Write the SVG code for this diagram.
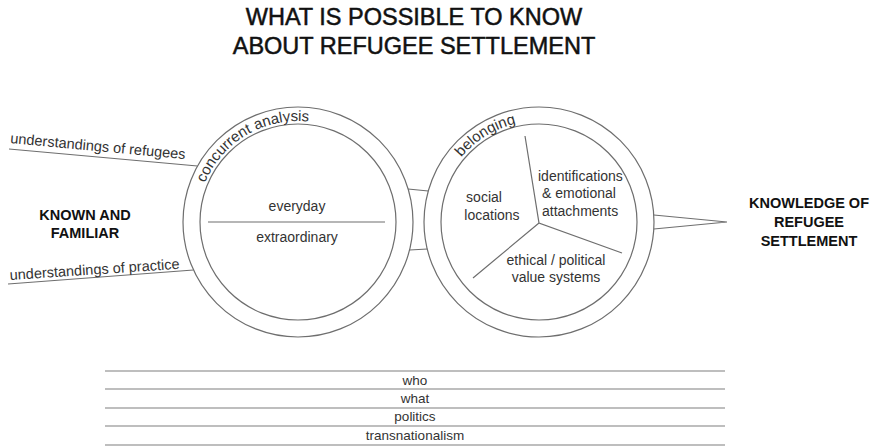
<svg xmlns="http://www.w3.org/2000/svg" width="877" height="447" viewBox="0 0 877 447">
  <style>
    .ln { fill: none; stroke: #6e6e6e; stroke-width: 1.2; }
    .rule { fill: none; stroke: #a8a8a8; stroke-width: 1.6; }
    .t { font-family: "Liberation Sans", Arial, sans-serif; font-size: 14px; fill: #333; }
    .lab { font-family: "Liberation Sans", Arial, sans-serif; font-size: 14.5px; fill: #333; }
    .arc { font-family: "Liberation Sans", Arial, sans-serif; font-size: 15px; fill: #333; }
    .tc { text-anchor: middle; }
    .b { font-family: "Liberation Sans", Arial, sans-serif; font-size: 14.5px; font-weight: bold; fill: #111; text-anchor: middle; }
    .title { font-family: "Liberation Sans", Arial, sans-serif; font-size: 23.5px; fill: #111; stroke: #111; stroke-width: 0.5; text-anchor: middle; }
    .small { font-family: "Liberation Sans", Arial, sans-serif; font-size: 13.5px; fill: #333; text-anchor: middle; }
  </style>
  <defs>
    <path id="arcL" d="M197,222 A101,101 0 0 1 399,222"/>
    <path id="arcR" d="M438,222 A101,101 0 0 1 640,222"/>
  </defs>
  <rect width="877" height="447" fill="#fff"/>

  <g id="title">
    <text class="title" x="414" y="25">WHAT IS POSSIBLE TO KNOW</text>
    <text class="title" x="414" y="54">ABOUT REFUGEE SETTLEMENT</text>
  </g>

  <g id="connectors">
    <line class="ln" x1="9" y1="149" x2="197.5" y2="166"/>
    <line class="ln" x1="8" y1="284" x2="193.5" y2="270"/>
    <line class="ln" x1="408" y1="189" x2="428.3" y2="191"/>
    <line class="ln" x1="409.5" y1="250" x2="427.5" y2="249"/>
    <path class="ln" d="M653.8,215 L727,222 L653.8,229"/>
  </g>

  <g id="understandings-refugees">
    <text class="lab" transform="translate(10,143) rotate(5.3)">understandings of refugees</text>
  </g>
  <g id="understandings-practice">
    <text class="lab" transform="translate(10,280) rotate(-3.8)">understandings of practice</text>
  </g>

  <g id="known-familiar">
    <text class="b" x="85" y="220">KNOWN AND</text>
    <text class="b" x="85" y="238">FAMILIAR</text>
  </g>

  <g id="concurrent-analysis">
    <circle class="ln" cx="298" cy="222" r="115"/>
    <circle class="ln" cx="298" cy="222" r="98"/>
    <text class="arc"><textPath href="#arcL" startOffset="40">concurrent analysis</textPath></text>
    <line class="ln" x1="208" y1="222" x2="385" y2="222"/>
    <text class="t tc" x="297" y="211">everyday</text>
    <text class="t tc" x="297" y="242">extraordinary</text>
  </g>

  <g id="belonging">
    <circle class="ln" cx="539" cy="222" r="115"/>
    <circle class="ln" cx="539" cy="222" r="98"/>
    <text class="arc"><textPath href="#arcR" startOffset="70">belonging</textPath></text>
    <path class="ln" d="M525,136 L539,223 L622,253 M539,223 L473,278"/>
    <text class="t tc" x="484" y="202">social</text>
    <text class="t tc" x="492" y="220">locations</text>
    <text class="t" x="538" y="181">identifications</text>
    <text class="t" x="542" y="198">&amp; emotional</text>
    <text class="t" x="542" y="216">attachments</text>
    <text class="t tc" x="556" y="265">ethical / political</text>
    <text class="t tc" x="556" y="282">value systems</text>
  </g>

  <g id="knowledge">
    <text class="b" x="809" y="208">KNOWLEDGE OF</text>
    <text class="b" x="809" y="227">REFUGEE</text>
    <text class="b" x="809" y="246">SETTLEMENT</text>
  </g>

  <g id="table">
    <line class="rule" x1="105" y1="371" x2="725" y2="371"/>
    <line class="rule" x1="105" y1="389" x2="725" y2="389"/>
    <line class="rule" x1="105" y1="408" x2="725" y2="408"/>
    <line class="rule" x1="105" y1="426" x2="725" y2="426"/>
    <line class="rule" x1="105" y1="445" x2="725" y2="445"/>
    <text class="small" x="415" y="385">who</text>
    <text class="small" x="415" y="403">what</text>
    <text class="small" x="415" y="421">politics</text>
    <text class="small" x="415" y="440">transnationalism</text>
  </g>
</svg>
